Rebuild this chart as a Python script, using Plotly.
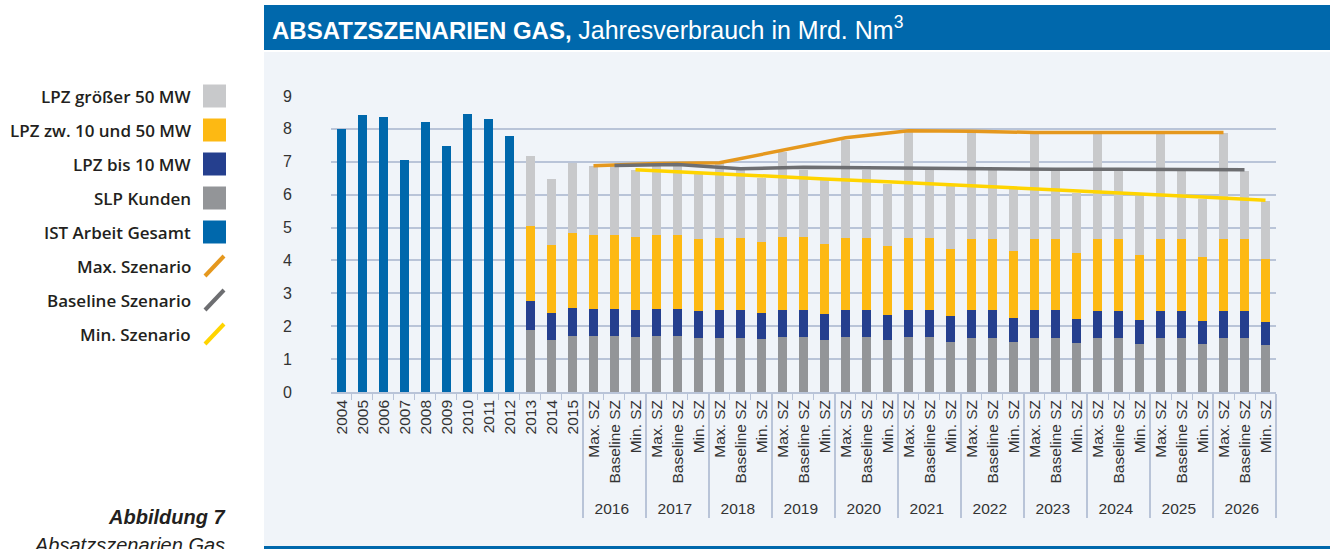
import plotly.graph_objects as go

# ---------------- data ----------------
hist_years = ["2004", "2005", "2006", "2007", "2008", "2009", "2010", "2011", "2012", "2013", "2014", "2015"]
ist_gesamt = [8.00, 8.43, 8.36, 7.05, 8.22, 7.47, 8.45, 8.29, 7.79]  # 2004-2012

scen_years = ["2016", "2017", "2018", "2019", "2020", "2021", "2022", "2023", "2024", "2025", "2026"]
scen_names = ["Max. SZ", "Baseline SZ", "Min. SZ"]

# components for 2013, 2014, 2015
slp_hist = [1.89, 1.57, 1.70]
bis10_hist = [0.89, 0.84, 0.85]
zw10_50_hist = [2.28, 2.07, 2.28]
gr50_hist = [2.11, 2.01, 2.12]

# components for scenarios, order per year: Max, Baseline, Min
slp_scen = [1.70, 1.69, 1.67, 1.69, 1.69, 1.64, 1.64, 1.64, 1.62, 1.67, 1.67, 1.59,
            1.67, 1.67, 1.57, 1.67, 1.67, 1.52, 1.65, 1.65, 1.52, 1.65, 1.65, 1.49,
            1.65, 1.65, 1.47, 1.65, 1.65, 1.45, 1.65, 1.65, 1.43]
bis10_scen = [0.83, 0.83, 0.81, 0.83, 0.83, 0.81, 0.84, 0.84, 0.78, 0.83, 0.83, 0.79,
              0.81, 0.81, 0.76, 0.81, 0.81, 0.79, 0.83, 0.83, 0.74, 0.83, 0.83, 0.74,
              0.80, 0.80, 0.72, 0.80, 0.80, 0.72, 0.80, 0.80, 0.71]
zw10_50_scen = [2.25, 2.26, 2.24, 2.26, 2.26, 2.20, 2.21, 2.21, 2.17, 2.22, 2.22, 2.13,
                2.21, 2.21, 2.11, 2.21, 2.21, 2.05, 2.18, 2.18, 2.03, 2.18, 2.18, 2.01,
                2.21, 2.21, 1.99, 2.19, 2.19, 1.93, 2.19, 2.19, 1.90]
gr50_scen = [2.10, 2.08, 2.02, 2.14, 2.08, 1.97, 2.26, 2.07, 1.95, 2.58, 2.04, 1.93,
             2.98, 2.05, 1.88, 3.22, 2.05, 1.94, 3.22, 2.08, 1.93, 3.21, 2.06, 1.82,
             3.21, 2.06, 1.77, 3.23, 2.08, 1.78, 3.23, 2.08, 1.77]

# scenario lines (2016-2026)
max_line = [6.88, 6.95, 6.97, 7.35, 7.73, 7.94, 7.93, 7.89, 7.89, 7.89, 7.89]
base_line = [6.89, 6.92, 6.79, 6.83, 6.82, 6.80, 6.80, 6.77, 6.77, 6.77, 6.76]
min_line = [6.76, 6.66, 6.56, 6.48, 6.39, 6.30, 6.22, 6.12, 6.02, 5.93, 5.83]

y_ticks = [0, 1, 2, 3, 4, 5, 6, 7, 8, 9]

legend_labels = ["LPZ größer 50 MW", "LPZ zw. 10 und 50 MW", "LPZ bis 10 MW", "SLP Kunden",
                 "IST Arbeit Gesamt", "Max. Szenario", "Baseline Szenario", "Min. Szenario"]

# ---------------- styles ----------------
C_GR50 = "#C8C9CB"
C_ZW = "#FDB913"
C_BIS10 = "#253F8E"
C_SLP = "#939598"
C_IST = "#0068AC"
C_MAX = "#E5981E"
C_BASE = "#6D6E71"
C_MIN = "#FFD400"
GRID = "#B9C4D8"
PANEL = "#F0F4F9"
BLUE = "#0068AC"

# ---------------- categories ----------------
parents = [""] * len(hist_years)
children = list(hist_years)
for yr in scen_years:
    for nm in scen_names:
        parents.append(yr)
        children.append(nm)
n_cat = len(children)
n_h = len(hist_years)

ist_full = ist_gesamt + [None] * (n_cat - len(ist_gesamt))
pad = [None] * (n_h - len(slp_hist))
slp_full = pad + slp_hist + slp_scen
bis10_full = pad + bis10_hist + bis10_scen
zw_full = pad + zw10_50_hist + zw10_50_scen
gr50_full = pad + gr50_hist + gr50_scen

x_all = [parents, children]

fig = go.Figure()
common = dict(x=x_all, width=0.44, marker_line_width=0, showlegend=False, hoverinfo="y")
fig.add_trace(go.Bar(y=ist_full, name="IST Arbeit Gesamt", marker_color=C_IST, **common))
fig.add_trace(go.Bar(y=slp_full, name="SLP Kunden", marker_color=C_SLP, **common))
fig.add_trace(go.Bar(y=bis10_full, name="LPZ bis 10 MW", marker_color=C_BIS10, **common))
fig.add_trace(go.Bar(y=zw_full, name="LPZ zw. 10 und 50 MW", marker_color=C_ZW, **common))
fig.add_trace(go.Bar(y=gr50_full, name="LPZ größer 50 MW", marker_color=C_GR50, **common))

for vals, nm, col, label in [(max_line, "Max. SZ", C_MAX, "Max. Szenario"),
                             (base_line, "Baseline SZ", C_BASE, "Baseline Szenario"),
                             (min_line, "Min. SZ", C_MIN, "Min. Szenario")]:
    fig.add_trace(go.Scatter(x=[scen_years, [nm] * len(scen_years)], y=vals, mode="lines",
                             line=dict(color=col, width=3.5), name=label, showlegend=False))

# ---------------- layout helpers ----------------
W, H = 1330, 549
SL, SR, ST, SB = 331, 1276, 96, 392  # plot area in pixels
def fx(px):
    return (px - SL) / (SR - SL)
def fy(py):
    return (SB - py) / (SB - ST)

shapes = [
    dict(type="rect", xref="paper", yref="paper", x0=fx(264), x1=fx(1340), y0=fy(547), y1=fy(52),
         fillcolor=PANEL, line_width=0, layer="below"),
    dict(type="rect", xref="paper", yref="paper", x0=fx(264), x1=fx(1340), y0=fy(50), y1=fy(5),
         fillcolor=BLUE, line_width=0, layer="below"),
    dict(type="rect", xref="paper", yref="paper", x0=fx(264), x1=fx(1340), y0=fy(560), y1=fy(546),
         fillcolor=BLUE, line_width=0, layer="below"),
]
annotations = [
    dict(xref="paper", yref="paper", x=fx(270), y=fy(28), xanchor="left", yanchor="middle",
         text="<b>ABSATZSZENARIEN GAS,</b> <span style='font-size:25px'>Jahresverbrauch in Mrd. Nm<sup>3</sup></span>",
         showarrow=False, font=dict(family="Liberation Sans, Arial, sans-serif", size=24, color="white")),
    dict(xref="paper", yref="paper", x=fx(227), y=fy(517), xanchor="right", yanchor="middle",
         text="<b><i>Abbildung 7</i></b>", showarrow=False,
         font=dict(family="Liberation Sans, Arial, sans-serif", size=20, color="#231F20")),
    dict(xref="paper", yref="paper", x=fx(227), y=fy(545), xanchor="right", yanchor="middle",
         text="<i>Absatzszenarien Gas</i>", showarrow=False,
         font=dict(family="Liberation Sans, Arial, sans-serif", size=20, color="#231F20")),
]

legend_rows = [96, 130, 164, 198, 232, 266, 300, 334]
legend_kind = ["box", "box", "box", "box", "box", "line", "line", "line"]
legend_cols = [C_GR50, C_ZW, C_BIS10, C_SLP, C_IST, C_MAX, C_BASE, C_MIN]
for lab, yy, kind, col in zip(legend_labels, legend_rows, legend_kind, legend_cols):
    annotations.append(dict(xref="paper", yref="paper", x=fx(193), y=fy(yy), xanchor="right",
                            yanchor="middle", text=lab, showarrow=False,
                            font=dict(family="Open Sans, Roboto, sans-serif", size=17,
                                      color="#231F20", weight=600)))
    if kind == "box":
        shapes.append(dict(type="rect", xref="paper", yref="paper", x0=fx(203), x1=fx(226),
                           y0=fy(yy + 11.5), y1=fy(yy - 11.5), fillcolor=col, line_width=0))
    else:
        shapes.append(dict(type="line", xref="paper", yref="paper", x0=fx(205), x1=fx(224),
                           y0=fy(yy + 10), y1=fy(yy - 10), line=dict(color=col, width=4)))

fig.update_layout(
    width=W, height=H,
    margin=dict(l=SL, r=W - SR, t=ST, b=H - SB, pad=0),
    paper_bgcolor="white", plot_bgcolor=PANEL,
    barmode="stack", bargap=0.56,
    showlegend=False,
    shapes=shapes, annotations=annotations,
    font=dict(family="Liberation Sans, Arial, sans-serif", size=15, color="#333333"),
)
fig.update_xaxes(
    type="multicategory", range=[-0.499, n_cat - 0.5], automargin=False,
    tickangle=-90, tickfont=dict(size=15.5, color="#333333"),
    showline=True, linecolor=GRID, linewidth=1.5,
    ticks="outside", ticklen=6, tickcolor=GRID, tickwidth=1,
    showdividers=True, dividercolor=GRID, dividerwidth=1.5,
    showgrid=False,
)
fig.update_yaxes(
    range=[0, 9], tickvals=y_ticks, automargin=False,
    showgrid=True, gridcolor=GRID, gridwidth=1.5, zeroline=False, showline=False,
    tickfont=dict(size=16, color="#333333"), ticks="", ticklabelstandoff=38,
)

# remove the browser's default 8px body margin so the figure fills the window exactly
fig.write_html("out.html", config={"displayModeBar": False},
               post_script="document.body.style.margin='0px';")
